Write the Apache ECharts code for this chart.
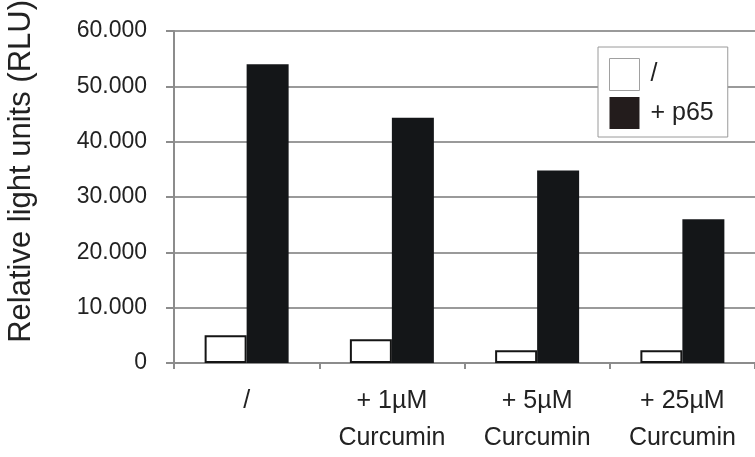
<!DOCTYPE html>
<html>
<head>
<meta charset="utf-8">
<script src="https://cdn.jsdelivr.net/npm/echarts@6/dist/echarts.min.js"></script>
<style>html,body{margin:0;padding:0;background:#fff;}#c{width:755px;height:457px;}</style>
</head>
<body>
<div id="c"></div>
<script>
var categories = ['/', '+ 1\u00b5M\nCurcumin', '+ 5\u00b5M\nCurcumin', '+ 25\u00b5M\nCurcumin'];
var seriesNames = ['/', '+ p65'];
var controlValues = [5000, 4300, 2300, 2300];
var p65Values = [54000, 44300, 34800, 26000];
var yTicks = [0, 10000, 20000, 30000, 40000, 50000, 60000];
var yAxisTitle = 'Relative light units (RLU)';

var FONT = '"Liberation Sans", Arial, Helvetica, sans-serif';
var chart = echarts.init(document.getElementById('c'), null, {renderer: 'canvas'});
chart.setOption({
  animation: false,
  backgroundColor: '#ffffff',
  textStyle: {fontFamily: FONT},
  grid: {left: 174, top: 31, bottom: 90, right: -3, containLabel: false},
  legend: {
    orient: 'vertical',
    left: 598, top: 47,
    padding: [11, 14, 8, 11],
    backgroundColor: '#ffffff',
    borderColor: '#9a9a9a', borderWidth: 1,
    itemWidth: 30, itemHeight: 32, itemGap: 6,
    textStyle: {fontFamily: FONT, fontSize: 25, color: '#222', padding: [0, 0, 0, 6]},
    data: [
      {name: seriesNames[0], icon: 'rect', itemStyle: {color: '#ffffff', borderColor: '#a0a0a0', borderWidth: 1}},
      {name: seriesNames[1], icon: 'rect', itemStyle: {color: '#231c1c', borderWidth: 0}}
    ]
  },
  xAxis: {
    type: 'category',
    data: categories,
    axisLine: {show: true, lineStyle: {color: '#8c8c8c', width: 2}},
    axisTick: {show: true, alignWithLabel: false, length: 6, lineStyle: {color: '#8c8c8c', width: 2}},
    axisLabel: {fontFamily: FONT, fontSize: 25, color: '#222', lineHeight: 37, margin: 20, interval: 0}
  },
  yAxis: {
    type: 'value',
    min: yTicks[0], max: yTicks[yTicks.length - 1], interval: yTicks[1] - yTicks[0],
    axisLine: {show: true, lineStyle: {color: '#8c8c8c', width: 2}},
    axisTick: {show: true, length: 8, lineStyle: {color: '#8c8c8c', width: 2}},
    splitLine: {show: true, lineStyle: {color: '#9a9a9a', width: 2}},
    axisLabel: {
      fontFamily: FONT, fontSize: 23, color: '#222', margin: 27,
      formatter: function (v) { return v === 0 ? '0' : (v / 1000).toFixed(3); }
    }
  },
  graphic: [{
    type: 'text',
    left: 6, top: 0,
    rotation: Math.PI / 2,
    style: {text: yAxisTitle, font: '31px ' + FONT, fill: '#222'}
  }],
  series: [
    {
      name: seriesNames[0], type: 'bar', data: controlValues,
      barWidth: 42, barGap: '0%',
      itemStyle: {color: '#ffffff', borderColor: '#151515', borderWidth: 2}
    },
    {
      name: seriesNames[1], type: 'bar', data: p65Values,
      barWidth: 42, barGap: '0%',
      itemStyle: {color: '#141618'}
    }
  ]
});
</script>
</body>
</html>
